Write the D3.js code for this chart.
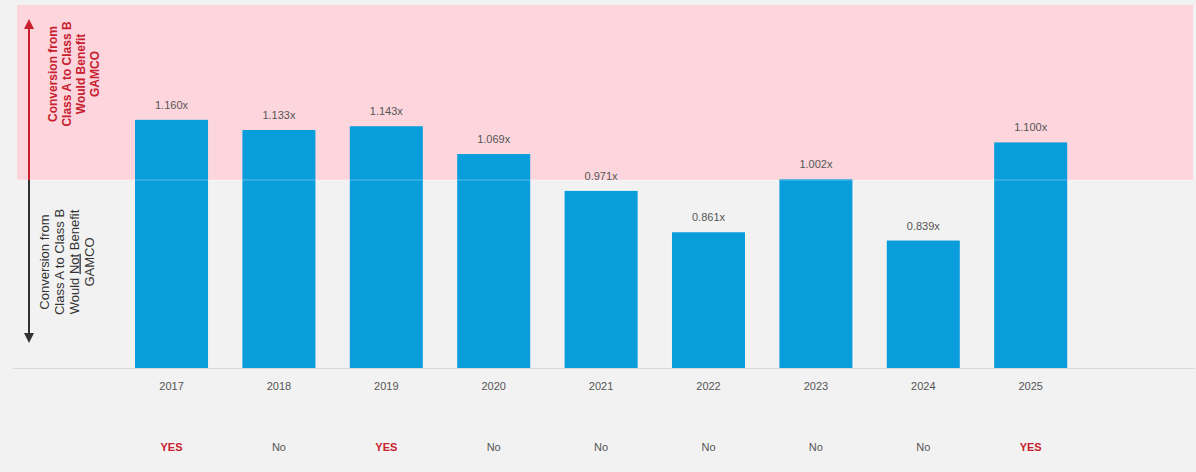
<!DOCTYPE html>
<html>
<head>
<meta charset="utf-8">
<script src="https://cdn.jsdelivr.net/npm/d3@7"></script>
<style>
  html, body { margin: 0; padding: 0; background: #f2f2f2; }
  svg { display: block; }
  text { font-family: "Liberation Sans", Arial, sans-serif; }
</style>
</head>
<body>
<svg id="chart" width="1196" height="472"></svg>
<script>
// Conversion ratio by year
const years = ["2017", "2018", "2019", "2020", "2021", "2022", "2023", "2024", "2025"];
const ratios = [1.160, 1.133, 1.143, 1.069, 0.971, 0.861, 1.002, 0.839, 1.100];
const benefit = ["YES", "No", "YES", "No", "No", "No", "No", "No", "YES"];
const threshold = 1.0;

const W = 1196, H = 472;
const svg = d3.select("#chart");

const baseY = 368;
const x = d3.scaleBand()
  .domain(years)
  .range([135, 1067.2])
  .paddingInner(0.32)
  .paddingOuter(0);

const y = d3.scaleLinear()
  .domain([0.5, 1.5])
  .range([baseY, baseY - 376]);

// page background
svg.append("rect").attr("width", W).attr("height", H).attr("fill", "#f2f2f2");

// shaded zone where conversion would benefit
svg.append("rect")
  .attr("x", 17).attr("y", 5)
  .attr("width", 1176).attr("height", y(threshold) - 5)
  .attr("fill", "#fdd6dd");

// bars
svg.append("g").selectAll("rect")
  .data(years)
  .join("rect")
  .attr("x", d => x(d))
  .attr("y", (d, i) => y(ratios[i]))
  .attr("width", x.bandwidth())
  .attr("height", (d, i) => baseY - y(ratios[i]))
  .attr("fill", "#0a9ddb");

// faint threshold line
svg.append("line")
  .attr("x1", 17).attr("x2", 1193)
  .attr("y1", y(threshold)).attr("y2", y(threshold))
  .attr("stroke", "#ffffff").attr("stroke-opacity", 0.3).attr("stroke-width", 1);

// baseline
svg.append("line")
  .attr("x1", 13).attr("x2", 1195)
  .attr("y1", baseY + 0.5).attr("y2", baseY + 0.5)
  .attr("stroke", "#dadada").attr("stroke-width", 1.2);

// value labels
svg.append("g").selectAll("text")
  .data(years)
  .join("text")
  .attr("x", d => x(d) + x.bandwidth() / 2)
  .attr("y", (d, i) => y(ratios[i]) - 11)
  .attr("text-anchor", "middle")
  .attr("font-size", 11)
  .attr("fill", "#555")
  .text((d, i) => ratios[i].toFixed(3) + "x");

// year axis
const xAxis = svg.append("g")
  .attr("transform", `translate(0,${baseY})`)
  .call(d3.axisBottom(x).tickSize(0).tickPadding(14));
xAxis.select(".domain").remove();
xAxis.selectAll("text")
  .attr("font-size", 11)
  .attr("fill", "#555")
  .attr("font-family", "Liberation Sans, Arial, sans-serif");

// benefit row
svg.append("g").selectAll("text")
  .data(years)
  .join("text")
  .attr("x", d => x(d) + x.bandwidth() / 2)
  .attr("y", 451)
  .attr("text-anchor", "middle")
  .attr("font-size", 11)
  .attr("font-weight", (d, i) => benefit[i] === "YES" ? "bold" : "normal")
  .attr("fill", (d, i) => benefit[i] === "YES" ? "#c8202f" : "#555")
  .text((d, i) => benefit[i]);

// side arrows
const defs = svg.append("defs");
function marker(id, color) {
  defs.append("marker")
    .attr("id", id)
    .attr("viewBox", "0 0 10 10")
    .attr("refX", 5).attr("refY", 5)
    .attr("markerWidth", 5).attr("markerHeight", 5)
    .attr("orient", "auto")
    .append("path")
    .attr("d", "M0,0 L10,5 L0,10 Z")
    .attr("fill", color);
}
marker("headRed", "#c8202f");
marker("headDark", "#333");

const arrowX = 29;
svg.append("line")
  .attr("x1", arrowX).attr("x2", arrowX)
  .attr("y1", y(threshold)).attr("y2", 24)
  .attr("stroke", "#c8202f").attr("stroke-width", 2)
  .attr("marker-end", "url(#headRed)");
svg.append("line")
  .attr("x1", arrowX).attr("x2", arrowX)
  .attr("y1", y(threshold)).attr("y2", 338)
  .attr("stroke", "#333").attr("stroke-width", 2)
  .attr("marker-end", "url(#headDark)");

// side captions (rotated)
function caption(lines, cx, cy, size, gap, color, weight) {
  const g = svg.append("g")
    .attr("transform", `translate(${cx},${cy}) rotate(-90)`);
  const t = g.append("text")
    .attr("text-anchor", "middle")
    .attr("font-size", size)
    .attr("font-weight", weight)
    .attr("fill", color);
  lines.forEach((ln, i) => {
    const ts = t.append("tspan").attr("x", 0).attr("dy", i === 0 ? 0 : gap);
    ln.forEach(part => {
      ts.append("tspan")
        .attr("text-decoration", part.u ? "underline" : null)
        .text(part.t);
    });
  });
}
caption([
  [{ t: "Conversion from" }],
  [{ t: "Class A to Class B" }],
  [{ t: "Would Benefit" }],
  [{ t: "GAMCO" }]
], 57, 74, 12, 14, "#c8202f", "bold");

caption([
  [{ t: "Conversion from" }],
  [{ t: "Class A to Class B" }],
  [{ t: "Would " }, { t: "Not", u: true }, { t: " Benefit" }],
  [{ t: "GAMCO" }]
], 48.5, 262, 13, 15, "#333", "normal");
</script>
</body>
</html>
